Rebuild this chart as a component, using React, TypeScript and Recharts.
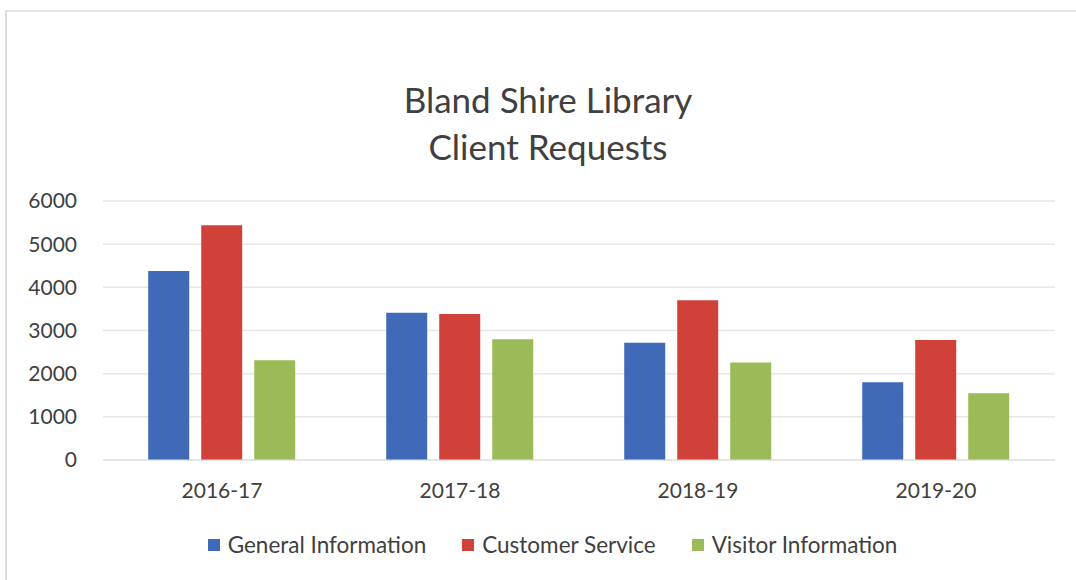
import React from "react"
import { BarChart, Bar, XAxis, YAxis, CartesianGrid, Legend } from "recharts"

const years = ["2016-17", "2017-18", "2018-19", "2019-20"]
const generalInfo = [4380, 3410, 2715, 1800]
const customerService = [5440, 3380, 3700, 2780]
const visitorInfo = [2310, 2800, 2260, 1545]
const yTicks = [0, 1000, 2000, 3000, 4000, 5000, 6000]

const series = [
  { key: "general", name: "General Information", color: "#4069b8" },
  { key: "customer", name: "Customer Service", color: "#d0413a" },
  { key: "visitor", name: "Visitor Information", color: "#9bbb59" },
]

const data = years.map((year, i) => ({
  year,
  general: generalInfo[i],
  customer: customerService[i],
  visitor: visitorInfo[i],
}))

const font = "Lato, 'Open Sans', sans-serif"

function LegendContent() {
  return (
    <div style={{ display: "flex", justifyContent: "center", gap: 36, paddingLeft: 50, fontFamily: font, fontSize: 22.5, color: "#404040" }}>
      {series.map(s => (
        <div key={s.key} style={{ display: "flex", alignItems: "center", gap: 8 }}>
          <span style={{ width: 12, height: 12, background: s.color, display: "inline-block" }} />
          <span>{s.name}</span>
        </div>
      ))}
    </div>
  )
}

export default function App() {
  return (
    <div style={{ position: "absolute", left: 0, top: 0, width: 1076, height: 580, background: "#fff", overflow: "hidden" }}>
      <div style={{ position: "absolute", left: 5, top: 10, width: 1100, height: 600, borderLeft: "2px solid #dcdcdc", borderTop: "2px solid #e4e4e4" }} />
      <div style={{ position: "absolute", left: 0, width: 1096, top: 76, textAlign: "center", fontFamily: font, fontSize: 35, color: "#404040", lineHeight: "47px" }}>
        Bland Shire Library<br />Client Requests
      </div>
      <div style={{ position: "absolute", left: 0, top: 0 }}>
        <BarChart
          width={1076}
          height={580}
          data={data}
          margin={{ top: 201, right: 21, left: 0, bottom: 15 }}
          barCategoryGap="19%"
          barGap={12}
        >
          <CartesianGrid vertical={false} stroke="#e6e6e6" strokeWidth={1.5} />
          <XAxis
            dataKey="year"
            axisLine={{ stroke: "#e0e0e0" }}
            tickLine={false}
            height={71}
            tickMargin={17}
            tick={{ fill: "#404040", fontSize: 21, fontFamily: font }}
          />
          <YAxis
            width={103}
            domain={[0, 6000]}
            ticks={yTicks}
            axisLine={false}
            tickLine={false}
            tickSize={0}
            tickMargin={26}
            tick={{ fill: "#404040", fontSize: 21, fontFamily: font }}
          />
          <Legend verticalAlign="bottom" height={34} content={<LegendContent />} />
          {series.map(s => (
            <Bar key={s.key} dataKey={s.key} name={s.name} fill={s.color} isAnimationActive={false} />
          ))}
        </BarChart>
      </div>
    </div>
  )
}
